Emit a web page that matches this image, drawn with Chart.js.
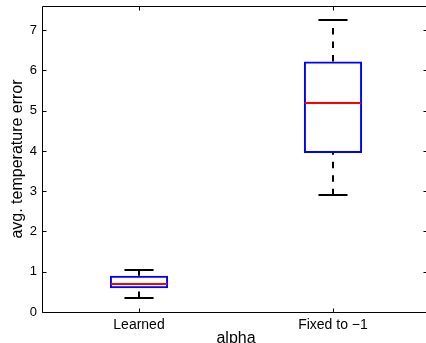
<!DOCTYPE html>
<html><head><meta charset="utf-8">
<script src="https://cdn.jsdelivr.net/npm/chart.js@4"></script>
<style>
html,body{margin:0;padding:0;background:#fff;overflow:hidden}
#wrap{width:426px;height:343px;overflow:hidden;position:relative;background:#fff}
canvas{position:absolute;left:0;top:0;width:440px;height:348px}
</style></head><body>
<div id="wrap"><canvas id="c" width="440" height="348"></canvas></div>
<script>
// ---- data ----
const categories = ['Learned', 'Fixed to \u22121'];
const whiskerLow  = [0.35, 2.90];
const q1          = [0.59, 3.95];
const medians     = [0.70, 5.19];
const q3          = [0.90, 6.22];
const whiskerHigh = [1.04, 7.25];
const yTicks = [0, 1, 2, 3, 4, 5, 6, 7];
const yMin = 0, yMax = 7.6;

const FONT = '"Liberation Sans", Arial, Helvetica, sans-serif';

const boxPlugin = {
  id: 'boxparts',
  beforeDatasetsDraw(chart) {
    const ctx = chart.ctx, ys = chart.scales.y;
    const meta = chart.getDatasetMeta(0);
    ctx.save();
    meta.data.forEach((bar, i) => {
      const {x, width} = bar.getProps(['x', 'width'], true);
      const xc = Math.round(x);
      ctx.strokeStyle = '#000';
      ctx.lineWidth = 2;
      ctx.setLineDash([6.5, 7]);
      ctx.beginPath();
      ctx.moveTo(xc, ys.getPixelForValue(q3[i]));
      ctx.lineTo(xc, ys.getPixelForValue(whiskerHigh[i]));
      ctx.stroke();
      ctx.beginPath();
      ctx.moveTo(xc, ys.getPixelForValue(whiskerLow[i]));
      ctx.lineTo(xc, ys.getPixelForValue(q1[i]));
      ctx.stroke();
      ctx.setLineDash([]);
      const cw = width / 4;
      [whiskerHigh[i], whiskerLow[i]].forEach(v => {
        const yy = Math.round(ys.getPixelForValue(v));
        ctx.beginPath();
        ctx.moveTo(xc - cw, yy);
        ctx.lineTo(xc + cw, yy);
        ctx.stroke();
      });
    });
    ctx.restore();
  },
  afterDatasetsDraw(chart) {
    const ctx = chart.ctx, ys = chart.scales.y;
    const meta = chart.getDatasetMeta(0);
    ctx.save();
    meta.data.forEach((bar, i) => {
      const {x, width} = bar.getProps(['x', 'width'], true);
      const yy = Math.round(ys.getPixelForValue(medians[i]));
      ctx.strokeStyle = '#ff0000';
      ctx.lineWidth = 2;
      ctx.beginPath();
      ctx.moveTo(x - width / 2 + 1, yy);
      ctx.lineTo(x + width / 2 - 1, yy);
      ctx.stroke();
    });
    ctx.restore();
  },
  afterDraw(chart) {
    const ctx = chart.ctx, a = chart.chartArea;
    const ys = chart.scales.y, xs = chart.scales.x;
    const L = Math.round(a.left) + 0.5, R = Math.round(a.right) - 0.5;
    const T = Math.round(a.top) + 0.5, B = Math.round(a.bottom) + 0.5;
    ctx.save();
    ctx.strokeStyle = '#000';
    ctx.lineWidth = 1;
    ctx.beginPath();
    ctx.moveTo(R, T); ctx.lineTo(L, T); ctx.lineTo(L, B); ctx.lineTo(R, B);
    ctx.stroke();
    ctx.beginPath();
    ys.ticks.forEach(t => {
      const yy = Math.round(ys.getPixelForValue(t.value)) + 0.5;
      ctx.moveTo(L, yy); ctx.lineTo(L + 4, yy);
      ctx.moveTo(R, yy); ctx.lineTo(R - 6, yy);
    });
    categories.forEach((c, i) => {
      const xx = Math.round(xs.getPixelForValue(i)) + 0.5;
      ctx.moveTo(xx, B); ctx.lineTo(xx, B - 4);
      ctx.moveTo(xx, T); ctx.lineTo(xx, T + 4);
    });
    ctx.stroke();
    ctx.restore();
  }
};

new Chart(document.getElementById('c'), {
  type: 'bar',
  data: {
    labels: categories,
    datasets: [{
      data: q1.map((v, i) => [v, q3[i]]),
      backgroundColor: 'rgba(0,0,0,0)',
      borderColor: '#0000ff',
      borderWidth: 2,
      borderSkipped: false,
      barPercentage: 0.3,
      categoryPercentage: 1.0
    }]
  },
  options: {
    responsive: false,
    devicePixelRatio: 1,
    animation: false,
    layout: {padding: {left: 0, right: 10, top: 6, bottom: 0}},
    plugins: {legend: {display: false}, tooltip: {enabled: false}},
    scales: {
      x: {
        type: 'category',
        offset: true,
        grid: {display: false, drawTicks: false},
        border: {display: false},
        ticks: {color: '#000', font: {family: FONT, size: 14}, padding: 5, maxRotation: 0},
        title: {display: true, text: 'alpha', color: '#000',
                font: {family: FONT, size: 16}, padding: {top: 0, bottom: 0}},
        afterFit: s => { s.height = 36; s.paddingLeft = 0; s.paddingRight = 0; }
      },
      y: {
        type: 'linear',
        min: yMin, max: yMax,
        grid: {display: false, drawTicks: false},
        border: {display: false},
        afterBuildTicks: s => { s.ticks = yTicks.map(v => ({value: v})); },
        ticks: {color: '#000', font: {family: FONT, size: 13}, padding: 5},
        title: {display: true, text: 'avg. temperature error', color: '#000',
                font: {family: FONT, size: 16}, padding: {top: 8, bottom: 0}},
        afterFit: s => { s.width = 42; s.paddingTop = 0; s.paddingBottom = 0; }
      }
    }
  },
  plugins: [boxPlugin]
});
</script>
</body></html>
